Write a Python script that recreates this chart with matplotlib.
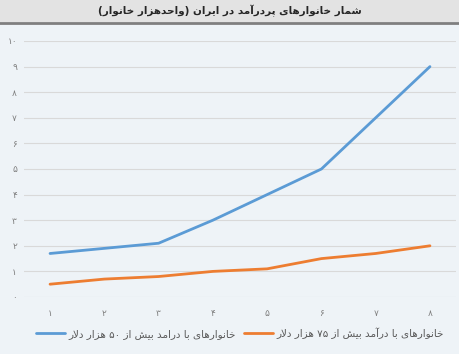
import matplotlib
matplotlib.use("Agg")
import matplotlib.pyplot as plt
from matplotlib.lines import Line2D

# data
years = [1, 2, 3, 4, 5, 6, 7, 8]
over_50k = [1.7, 1.9, 2.1, 3.0, 4.0, 5.0, 7.0, 9.0]
over_75k = [0.5, 0.7, 0.8, 1.0, 1.1, 1.5, 1.7, 2.0]
y_ticks = list(range(0, 11))

title = "شمار خانوارهای پردرآمد در ایران (واحدهزار خانوار)"
label_50k = "خانوارهای با درامد بیش از ۵۰ هزار دلار"
label_75k = "خانوارهای با درآمد بیش از ۷۵ هزار دلار"

# presentation forms: (isolated, final, initial, medial)
FORMS = {
    "ا": (0xFE8D, 0xFE8E), "آ": (0xFE81, 0xFE82),
    "د": (0xFEA9, 0xFEAA), "ر": (0xFEAD, 0xFEAE),
    "ز": (0xFEAF, 0xFEB0), "و": (0xFEED, 0xFEEE),
    "ب": (0xFE8F, 0xFE90, 0xFE91, 0xFE92),
    "پ": (0xFB56, 0xFB57, 0xFB58, 0xFB59),
    "ح": (0xFEA1, 0xFEA2, 0xFEA3, 0xFEA4),
    "خ": (0xFEA5, 0xFEA6, 0xFEA7, 0xFEA8),
    "ش": (0xFEB5, 0xFEB6, 0xFEB7, 0xFEB8),
    "ل": (0xFEDD, 0xFEDE, 0xFEDF, 0xFEE0),
    "م": (0xFEE1, 0xFEE2, 0xFEE3, 0xFEE4),
    "ن": (0xFEE5, 0xFEE6, 0xFEE7, 0xFEE8),
    "ه": (0xFEE9, 0xFEEA, 0xFEEB, 0xFEEC),
    "ی": (0xFBFC, 0xFBFD, 0xFBFE, 0xFBFF),
}
LAM_ALEF = {"ا": (0xFEFB, 0xFEFC), "آ": (0xFEF5, 0xFEF6)}
PERSIAN_DIGITS = "۰۱۲۳۴۵۶۷۸۹"


def fa_digits(n):
    return "".join(PERSIAN_DIGITS[int(c)] for c in str(n))


def shape(text):
    """crude arabic shaping + rtl reorder, matplotlib does neither"""
    chars = list(text)
    out = []
    i = 0
    while i < len(chars):
        c = chars[i]
        prev = chars[i - 1] if i > 0 else None
        joins_prev = prev in FORMS and len(FORMS[prev]) == 4 and c in FORMS
        if c == "ل" and i + 1 < len(chars) and chars[i + 1] in LAM_ALEF:
            iso, fin = LAM_ALEF[chars[i + 1]]
            out.append(chr(fin if joins_prev else iso))
            i += 2
            continue
        if c not in FORMS:
            out.append(c)
            i += 1
            continue
        f = FORMS[c]
        nxt = chars[i + 1] if i + 1 < len(chars) else None
        joins_next = len(f) == 4 and nxt in FORMS
        if joins_prev and joins_next:
            g = f[3]
        elif joins_prev:
            g = f[1]
        elif joins_next:
            g = f[2]
        else:
            g = f[0]
        out.append(chr(g))
        i += 1
    out = out[::-1]
    # digits stay left to right, brackets get mirrored
    res, run = [], []
    for c in out:
        if c in PERSIAN_DIGITS:
            run.append(c)
            continue
        res.extend(run[::-1])
        run = []
        res.append({"(": ")", ")": "("}.get(c, c))
    res.extend(run[::-1])
    return "".join(res)


W, H = 459, 354
fig = plt.figure(figsize=(W / 100, H / 100), dpi=100)
fig.patch.set_facecolor("#eef3f7")

# header band
hdr = fig.add_axes([0, 1 - 22 / H, 1, 22 / H])
hdr.set_facecolor("#e3e3e3")
hdr.set_xticks([])
hdr.set_yticks([])
for s in hdr.spines.values():
    s.set_visible(False)
hdr.text(0.5, 0.5, shape(title), ha="center", va="center",
         fontsize=7.5, fontweight="bold", color="#262626", family="DejaVu Sans")
fig.add_artist(Line2D([0, 1], [1 - 23 / H, 1 - 23 / H], color="#7f7f7f", lw=2))

ax = fig.add_axes([24 / W, 1 - 297 / H, (456 - 24) / W, (297 - 41) / H])
ax.set_facecolor("none")
ax.plot(years, over_50k, color="#5b9bd5", lw=2, solid_capstyle="round",
        label=shape(label_50k))
ax.plot(years, over_75k, color="#ed7d31", lw=2, solid_capstyle="round",
        label=shape(label_75k))

ax.set_xlim(0.52, 8.48)
ax.set_ylim(0, 10)
ax.set_yticks(y_ticks)
ax.set_yticklabels([fa_digits(v) for v in y_ticks])
ax.set_xticks(years)
ax.set_xticklabels([fa_digits(v) for v in years])
ax.tick_params(length=0, labelsize=6.5, colors="#7f7f7f")
ax.tick_params(axis="y", pad=5)
ax.tick_params(axis="x", pad=9)
ax.grid(axis="y", color="#d9d9d9", lw=0.8)
ax.set_axisbelow(True)
for s in ax.spines.values():
    s.set_visible(False)

ax.legend(loc="center", bbox_to_anchor=(0.5, -0.14), ncol=2, frameon=False,
          fontsize=7.5, handlelength=2.8, columnspacing=0.8, handletextpad=0.3,
          labelcolor="#595959")

fig.savefig("out.png", dpi=100, facecolor=fig.get_facecolor())
